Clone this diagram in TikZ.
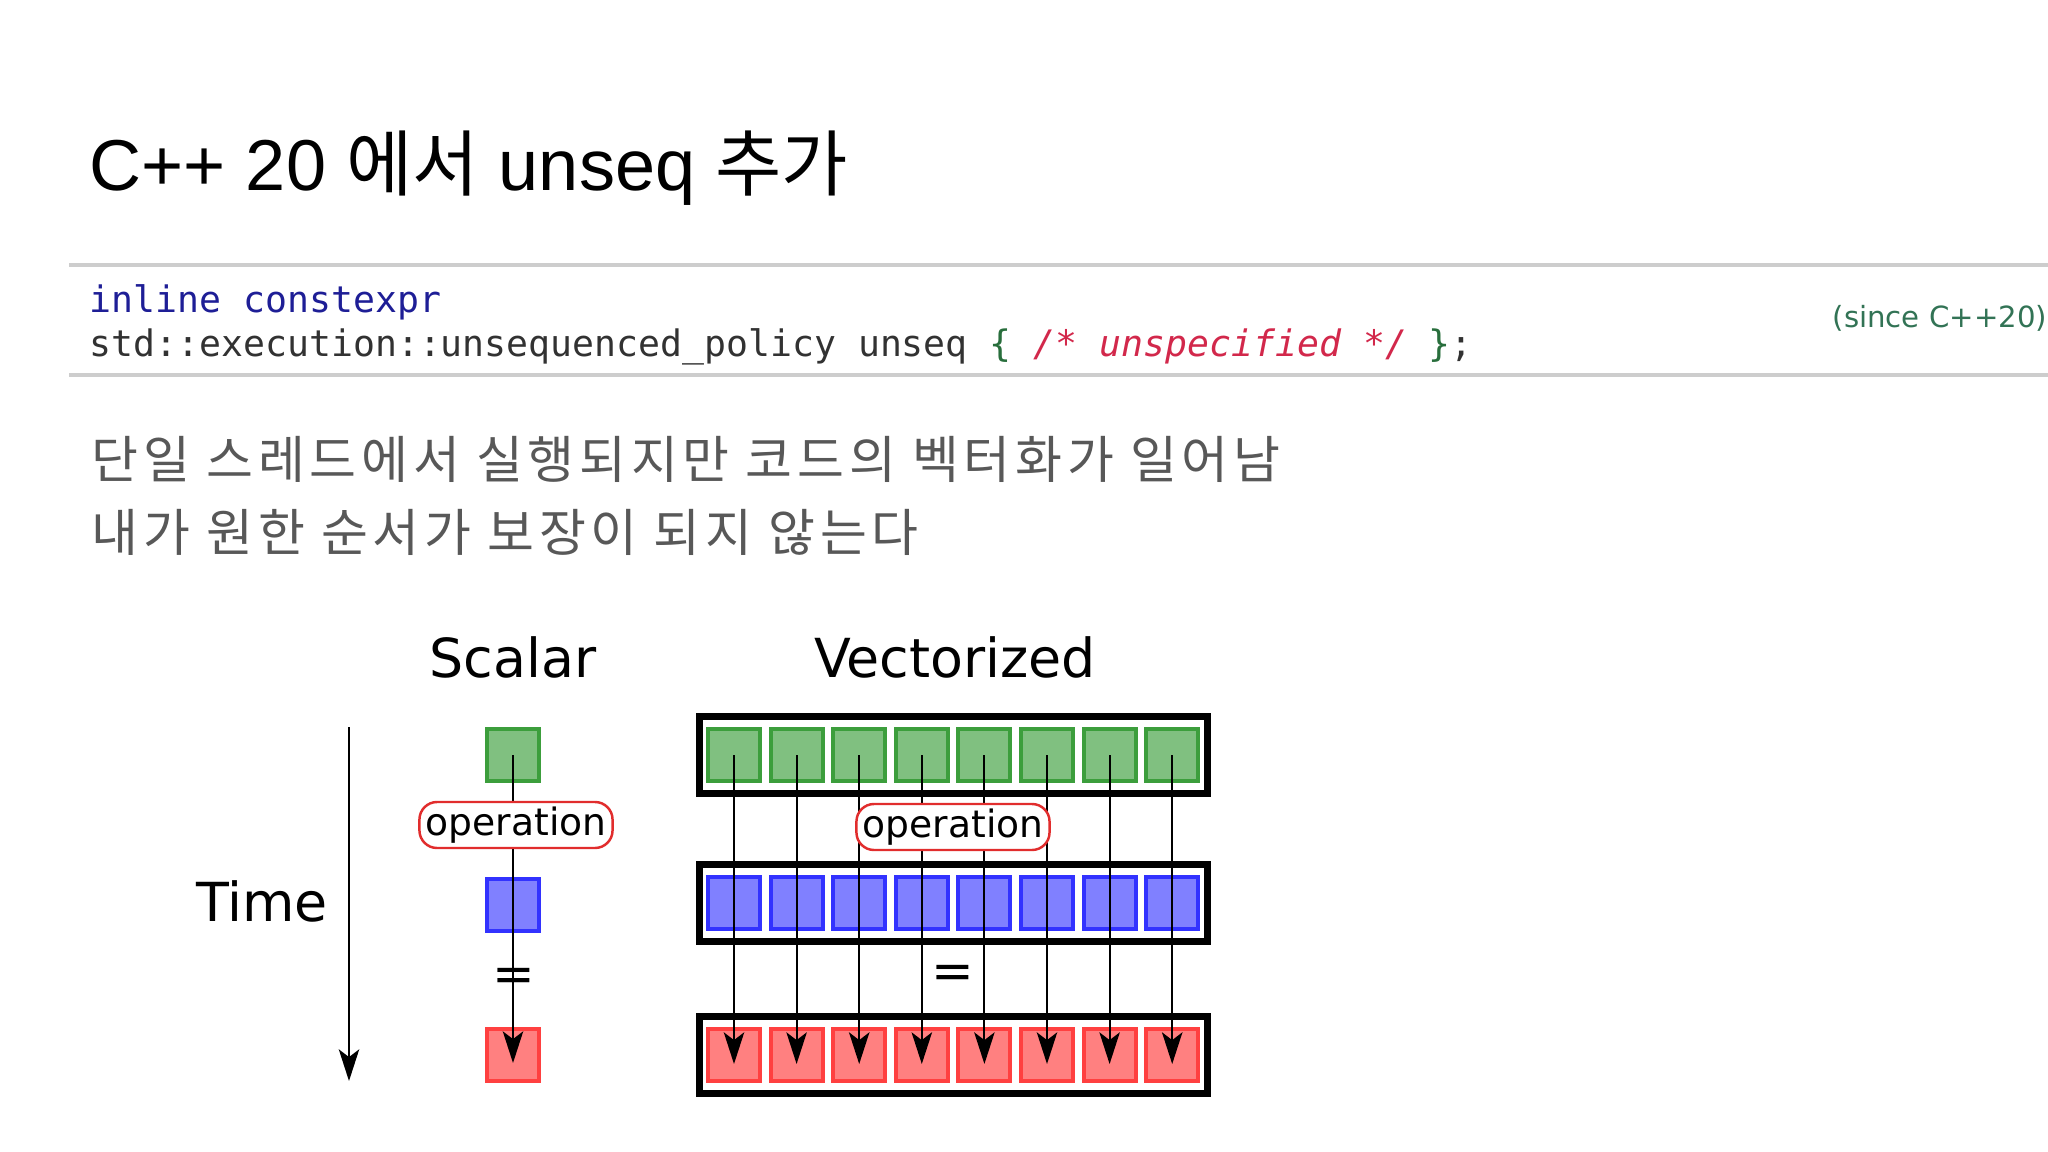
\documentclass[tikz,border=0pt]{standalone}
\usepackage{fontspec}
\setmainfont{DejaVu Sans}
\newfontfamily\krfont{Noto Sans CJK KR}
\newfontfamily\krbody[LetterSpace=9.3]{Noto Sans CJK KR}
\newfontfamily\titlefont{Liberation Sans}
\newfontfamily\codefont{DejaVu Sans Mono}
\usetikzlibrary{arrows.meta, positioning}
\definecolor{grnfill}{RGB}{128,192,128}
\definecolor{grnline}{RGB}{60,158,60}
\definecolor{blufill}{RGB}{128,128,255}
\definecolor{bluline}{RGB}{50,50,255}
\definecolor{redfill}{RGB}{255,128,128}
\definecolor{redline}{RGB}{255,64,64}
\definecolor{opred}{RGB}{225,45,45}
\definecolor{kwblue}{RGB}{30,30,150}
\definecolor{codegray}{RGB}{50,50,50}
\definecolor{bracegreen}{RGB}{40,110,60}
\definecolor{commentred}{RGB}{210,40,75}
\definecolor{sincegreen}{RGB}{50,115,85}
\definecolor{bodygray}{RGB}{88,88,88}
\definecolor{rulegray}{RGB}{205,205,205}

\begin{document}
\begin{tikzpicture}[
  x=0.01cm, y=-0.01cm,
  cell/.style={draw, line width=1.1pt, minimum size=0.52cm, inner sep=0pt},
  gcell/.style={cell, draw=grnline, fill=grnfill},
  bcell/.style={cell, draw=bluline, fill=blufill},
  rcell/.style={cell, draw=redline, fill=redfill},
  frame/.style={draw=black, line width=2.1pt, minimum width=5.08cm, minimum height=0.77cm, inner sep=0pt},
  op/.style={draw=opred, rounded corners=5pt, fill=white, line width=0.7pt, minimum width=1.93cm,
             minimum height=0.46cm, inner sep=0pt, font=\fontsize{10.7}{12}\selectfont},
  lbl/.style={font=\fontsize{15.3}{18}\selectfont},
  eqsign/.style={font=\fontsize{14.5}{18}\selectfont},
  arrow/.style={-{Stealth[length=9pt, width=5.8pt, inset=2.2pt]}, line width=0.6pt},
  rule/.style={draw=rulegray, line width=0.9pt},
  krtext/.style={anchor=base west, inner sep=0pt, text=bodygray, font=\krbody\fontsize{14.5}{17}\selectfont},
  code/.style={anchor=base west, inner sep=0pt, font=\codefont\fontsize{10.37}{12}\selectfont}
]
\useasboundingbox (0,0) rectangle (2048,1152);

% heading and code line
\node[anchor=base west, inner sep=0pt, font=\titlefont\fontsize{20.5}{24}\selectfont] (title) at (89,191)
  {C++ 20 {\krfont 에서} unseq {\krfont 추가}};

\coordinate (r1a) at (69,265);  \coordinate (r1b) at (2048,265);
\coordinate (r2a) at (69,375);  \coordinate (r2b) at (2048,375);
\draw[rule] (r1a) -- (r1b);
\draw[rule] (r2a) -- (r2b);

\node[code, text=kwblue] (c1) at (89,313) {inline constexpr};
\node[code, text=codegray] (c2) at (89,357)
  {std::execution::unsequenced\_policy unseq \textcolor{bracegreen}{\{} \textcolor{commentred}{\itshape /* unspecified */} \textcolor{bracegreen}{\}};};
\node[anchor=base west, inner sep=0pt, text=sincegreen, font=\fontsize{8.3}{10}\selectfont] (since) at (1832,328) {(since C++20)};

\node[krtext] (k1) at (91,479) {단일 스레드에서 실행되지만 코드의 벡터화가 일어남};
\node[krtext] (k2) at (91,551) {내가 원한 순서가 보장이 되지 않는다};

% scalar column
\node[lbl] (scalar) at (513,657) {Scalar};
\node[gcell] (sg) at (513,755) {};
\node[bcell] (sb) at (513,905) {};
\node[rcell] (sr) at (513,1055) {};
\draw[arrow] (sg.center) -- ([yshift=-0.08cm]sr.center);
\node[op] (sop) at (516,825) {operation};
\node[eqsign] (seq) at (514,980) {=};

\node[lbl] (time) at (262,901) {Time};
\coordinate (t0) at (349,727);
\coordinate (t1) at (349,1081);
\draw[arrow] (t0) -- (t1);

% vectorized column
\node[lbl] (vector) at (955,657) {Vectorized};
\node[frame] (gf) at (953.5,755) {};
\node[frame] (bf) at (953.5,903) {};
\node[frame] (rf) at (953.5,1055) {};
\foreach \i in {0,...,7}{
  \node[gcell] (g\i) at (734+62.6*\i,755) {};
  \node[bcell] (b\i) at (734+62.6*\i,903) {};
  \node[rcell] (r\i) at (734+62.6*\i,1055) {};
}
\foreach \i in {0,...,7}
  \draw[arrow] (g\i.center) -- ([yshift=-0.09cm]r\i.center);
\node[op] (vop) at (953,827) {operation};
\node[eqsign] (veq) at (953,977) {=};
\end{tikzpicture}
\end{document}
